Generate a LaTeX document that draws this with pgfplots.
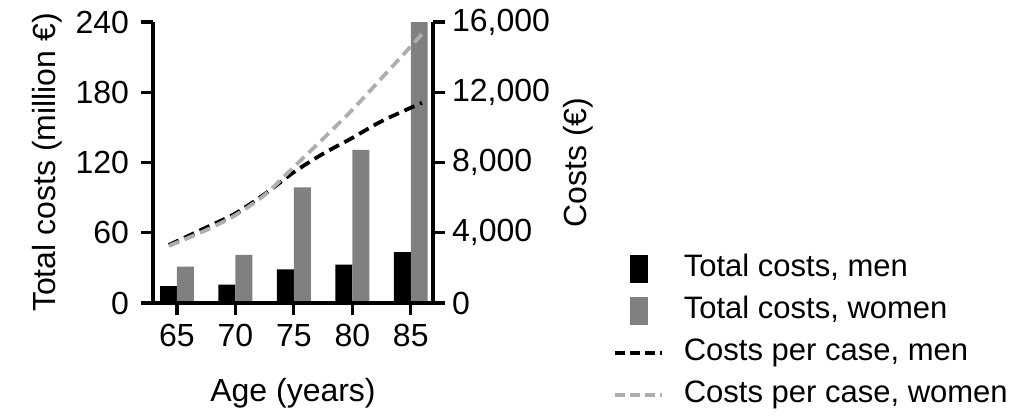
\documentclass[border=0pt]{standalone}
\usepackage{pgfplots}
\pgfplotsset{compat=1.18}
\usepackage{fontspec}
\setmainfont{Liberation Sans}
\definecolor{bargray}{HTML}{808080}
\definecolor{linegray}{HTML}{AEAEAE}
\pgfplotsset{
  legbarblack/.style={legend image code/.code={\path[draw=none,fill=none] (0pt,0pt) -- (23.5pt,0pt);\fill[black,draw=none] (7.3pt,-7pt) rectangle (16.3pt,7pt);}},
  legbargray/.style={legend image code/.code={\path[draw=none,fill=none] (0pt,0pt) -- (23.5pt,0pt);\fill[bargray,draw=none] (7.3pt,-7pt) rectangle (16.3pt,7pt);}},
  leglineblack/.style={legend image code/.code={\draw[black, line width=1.9pt, dash pattern=on 5pt off 2.5pt] (0pt,0pt) -- (23.5pt,0pt);}},
  leglinegray/.style={legend image code/.code={\draw[linegray, line width=1.9pt, dash pattern=on 5pt off 2.5pt] (0pt,0pt) -- (23.5pt,0pt);}},
  myticks/.style={
    tick align=outside, major tick length=6pt,
    every tick/.style={line width=1.6pt, black},
    every major tick/.style={line width=1.6pt, black},
    x axis line style={line width=1.6pt, black, -},
    y axis line style={line width=1.6pt, black, -},
    every outer x axis line/.append style={line width=1.6pt, black, -},
    every outer y axis line/.append style={line width=1.6pt, black, -},
  },
}
\begin{document}
\begin{tikzpicture}[font=\fontsize{16}{19}\selectfont]
\useasboundingbox (-76.5pt,-57pt) rectangle (428.5pt,151.5pt);
\pgfplotsset{every axis/.append style={
  scale only axis, width=140pt, height=140.5pt,
  xmin=-0.41, xmax=4.38,
  /pgf/number format/assume math mode=true,
  clip=false,
}}
\begin{axis}[
  at={(0pt,0pt)}, anchor=south west,
  axis x line=bottom, axis y line=left,
  myticks, axis on top,
  ymin=0, ymax=240, ytick={0,60,120,180,240},
  xtick={0,1,2,3,4}, xticklabels={65,70,75,80,85},
  yticklabel style={xshift=-2.5pt},
  xticklabel style={yshift=-1pt},
  xlabel={Age (years)},
  xlabel style={yshift=-9pt},
  ylabel={Total costs (million €)},
]
\addplot[ybar, bar width=0.29, bar shift=-0.145, fill=black, draw=none]
  coordinates {(0,14.5) (1,15.6) (2,28.7) (3,32.7) (4,43.5)};
\addplot[ybar, bar width=0.29, bar shift=0.145, fill=bargray, draw=none]
  coordinates {(0,31) (1,41) (2,98.8) (3,130.7) (4,240)};
\draw[line width=1.6pt, black] (axis cs:0,0) -- ([yshift=-6pt]axis cs:0,0);
\draw[line width=1.6pt, black] (axis cs:1,0) -- ([yshift=-6pt]axis cs:1,0);
\draw[line width=1.6pt, black] (axis cs:2,0) -- ([yshift=-6pt]axis cs:2,0);
\draw[line width=1.6pt, black] (axis cs:3,0) -- ([yshift=-6pt]axis cs:3,0);
\draw[line width=1.6pt, black] (axis cs:4,0) -- ([yshift=-6pt]axis cs:4,0);
\end{axis}
\begin{axis}[
  at={(0pt,0pt)}, anchor=south west,
  axis x line=none, axis y line=right,
  myticks,
  ymin=0, ymax=16000, ytick={0,4000,8000,12000,16000},
  scaled y ticks=false,
  yticklabel style={/pgf/number format/1000 sep={,}},
  yticklabel pos=right,
  ylabel={Costs (€)}, ylabel near ticks,
  legend cell align=left,
  legend style={draw=none, fill=none, inner sep=0pt, outer sep=0pt,
    at={(1.643,0.171)}, anchor=north west,
    row sep=7pt, font=\fontsize{15.5}{18}\selectfont,
    nodes={inner sep=0pt, text height=11pt, text depth=3pt},
    /tikz/every odd column/.append style={column sep=10pt}},
]
\addlegendimage{legbarblack}
\addlegendentry{Total costs, men}
\addlegendimage{legbargray}
\addlegendentry{Total costs, women}
\addplot[black, line width=1.9pt, dash pattern=on 5.5pt off 3pt, smooth, leglineblack]
  coordinates {(-0.14,3300) (0.5,4300) (1,5100) (1.5,6200) (2,7450) (2.5,8500) (3,9400) (3.5,10350) (4.19,11400)};
\addlegendentry{Costs per case, men}
\addplot[linegray, line width=1.9pt, dash pattern=on 5.5pt off 3pt, smooth, leglinegray]
  coordinates {(-0.14,3250) (0.5,4150) (1,5000) (1.5,6150) (2,7750) (2.5,9350) (3,11000) (3.5,12800) (4.19,15300)};
\addlegendentry{Costs per case, women}
\end{axis}
\end{tikzpicture}
\end{document}
